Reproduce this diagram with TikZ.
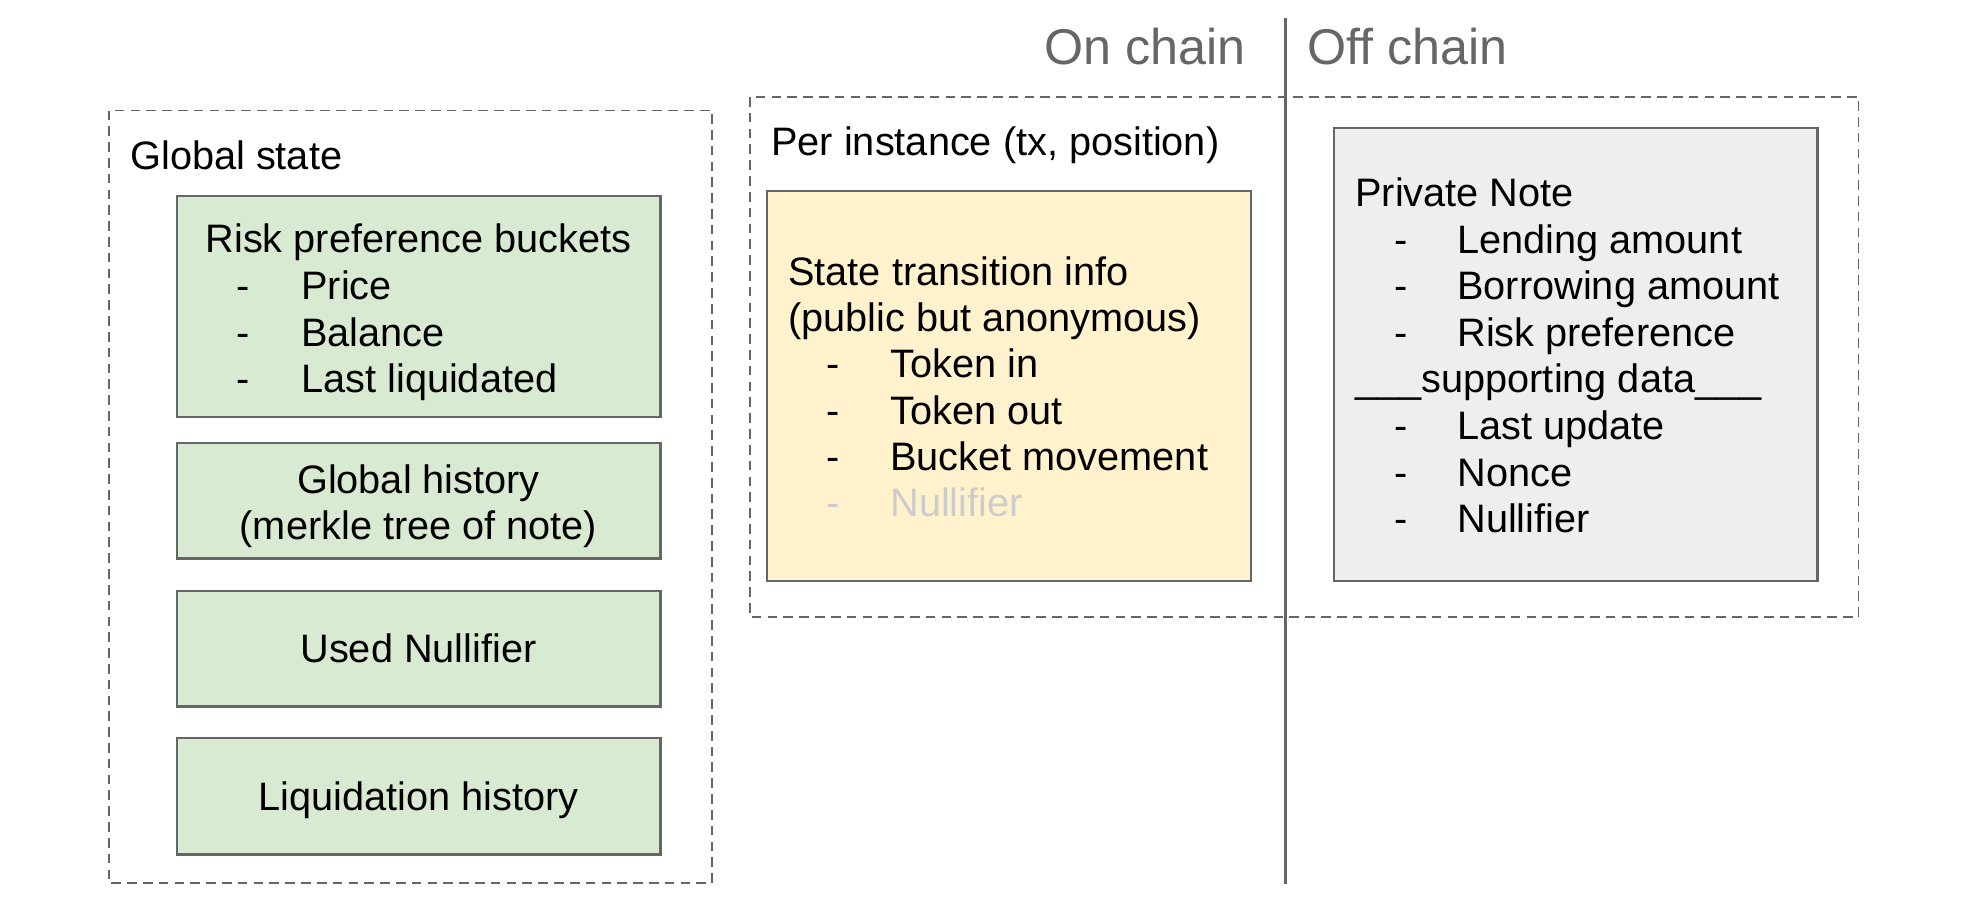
\documentclass[tikz,border=0pt]{standalone}
\usepackage{fontspec}
\setmainfont{Liberation Sans}
\definecolor{notegreen}{HTML}{D9EAD3}
\definecolor{noteyellow}{HTML}{FFF2CC}
\definecolor{notegrey}{HTML}{EEEEEE}
\definecolor{linegrey}{HTML}{666666}
\definecolor{fadedgrey}{HTML}{CCCCCC}
\tikzset{
    groupbox/.style={draw=linegrey, line width=0.9pt, dash pattern=on 5.5pt off 3.5pt},
    notebox/.style={draw=linegrey, line width=1.2pt},
    txt/.style={inner sep=0pt, font=\fontsize{22.6pt}{26.4pt}\selectfont},
    lefttxt/.style={txt, anchor=base west},
    midtxt/.style={txt, anchor=base},
    headtxt/.style={inner sep=0pt, text=linegrey, font=\fontsize{28.6pt}{34pt}\selectfont}
}
\begin{document}
\begin{tikzpicture}[x=0.02cm, y=-0.02cm]
                \useasboundingbox (0,0) rectangle (1968,920);

                % on chain / off chain split
                \node[headtxt, anchor=base east] (onchain) at (1246,64) {On chain};
                \node[headtxt, anchor=base west] (offchain) at (1307,64) {Off chain};
                \draw [linegrey, line width=1.2pt] (1285.5,18) -- (1285.5,884);

                % global state
                \draw [groupbox] (109,110.5) rectangle (712,883);
                \node[lefttxt] (global) at (130,169) {Global state};

                \draw [notebox, fill=notegreen] (177,196) rectangle (660.5,417);
                \node[midtxt] (risk) at (418.5,252) {Risk preference buckets};
                \node[lefttxt] (riskdA) at (236,299) {-};
                \node[lefttxt] (riskA) at (301,299) {Price};
                \node[lefttxt] (riskdB) at (236,346) {-};
                \node[lefttxt] (riskB) at (301,346) {Balance};
                \node[lefttxt] (riskdC) at (236,392) {-};
                \node[lefttxt] (riskC) at (301,392) {Last liquidated};

                \draw [notebox, fill=notegreen] (177,443) rectangle (660.5,558.5);
                \node[midtxt] (history) at (418.5,493) {Global history};
                \node[midtxt] (merkle) at (418.5,539) {(merkle tree of note)};

                \draw [notebox, fill=notegreen] (177,591) rectangle (660.5,706.5);
                \node[midtxt] (usednull) at (418.5,662) {Used Nullifier};

                \draw [notebox, fill=notegreen] (177,738) rectangle (660.5,854.5);
                \node[midtxt] (liquid) at (418.5,810) {Liquidation history};

                % per instance
                \draw [groupbox] (750,97) rectangle (1858.5,617);
                \node[lefttxt] (instance) at (771,155) {Per instance (tx, position)};

                \draw [notebox, fill=noteyellow] (767,191) rectangle (1251,581);
                \node[lefttxt] (trans) at (788,285) {State transition info};
                \node[lefttxt] (public) at (788,331) {(public but anonymous)};
                \node[lefttxt] (transdA) at (826,377) {-};
                \node[lefttxt] (transA) at (890,377) {Token in};
                \node[lefttxt] (transdB) at (826,424) {-};
                \node[lefttxt] (transB) at (890,424) {Token out};
                \node[lefttxt] (transdC) at (826,470) {-};
                \node[lefttxt] (transC) at (890,470) {Bucket movement};
                \node[lefttxt, text=fadedgrey] (transdD) at (826,516) {-};
                \node[lefttxt, text=fadedgrey] (transD) at (890,516) {Nullifier};

                \draw [notebox, fill=notegrey] (1334,128) rectangle (1817.5,581);
                \node[lefttxt] (private) at (1355,206) {Private Note};
                \node[lefttxt] (notedA) at (1394,253) {-};
                \node[lefttxt] (noteA) at (1457,253) {Lending amount};
                \node[lefttxt] (notedB) at (1394,299) {-};
                \node[lefttxt] (noteB) at (1457,299) {Borrowing amount};
                \node[lefttxt] (notedC) at (1394,346) {-};
                \node[lefttxt] (noteC) at (1457,346) {Risk preference};
                \node[lefttxt] (support) at (1355,392) {\_\_\_supporting data\_\_\_};
                \node[lefttxt] (notedD) at (1394,439) {-};
                \node[lefttxt] (noteD) at (1457,439) {Last update};
                \node[lefttxt] (notedE) at (1394,486) {-};
                \node[lefttxt] (noteE) at (1457,486) {Nonce};
                \node[lefttxt] (notedF) at (1394,532) {-};
                \node[lefttxt] (noteF) at (1457,532) {Nullifier};
\end{tikzpicture}
\end{document}
